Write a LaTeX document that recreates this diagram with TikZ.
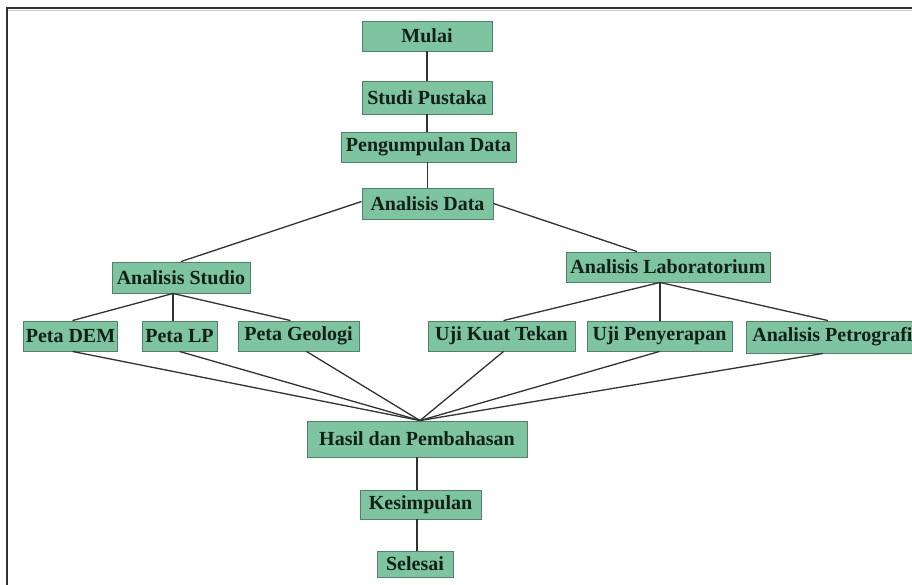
\documentclass[tikz,border=0pt]{standalone}
\usepackage{fontspec}
\setmainfont{Liberation Serif}
\usetikzlibrary{calc}
\definecolor{boxgreen}{RGB}{126,196,160}
\definecolor{boxedge}{RGB}{84,128,106}
\definecolor{boxtext}{RGB}{18,32,24}
\definecolor{linegray}{RGB}{50,50,50}
\tikzset{
  stepbox/.style={draw=boxedge, fill=boxgreen, line width=0.9pt, text=boxtext,
    font=\fontsize{20}{24}\selectfont\bfseries, inner sep=2pt, minimum height=30pt},
  link/.style={draw=linegray, line width=1.3pt},
  frameline/.style={draw=linegray, line width=1.8pt}
}
\begin{document}
\begin{tikzpicture}[x=1pt,y=-1pt]
\useasboundingbox (0,0) rectangle (912,585);
\clip (0,0) rectangle (912,585);
\fill[white] (0,0) rectangle (912,585);
% frame
\coordinate (ftl) at (7,8);
\coordinate (ftr) at (913,8);
\coordinate (fbl) at (7,586);
\draw[frameline] (ftr) -- (ftl) -- (fbl);
\draw[gray!40, line width=0.8pt] (8,10) -- (913,10);

% nodes
\node[stepbox, minimum width=130pt] (mulai) at (427,36) {Mulai};
\node[stepbox, minimum width=130pt, minimum height=33pt] (studi) at (427,97.5) {Studi Pustaka};
\node[stepbox, minimum width=175pt] (peng) at (428.5,147) {Pengumpulan Data};
\node[stepbox, minimum width=131pt, minimum height=31pt] (adata) at (427.5,203.5) {Analisis Data};
\node[stepbox, minimum width=138pt, minimum height=31pt] (astudio) at (181,277.5) {Analisis Studio};
\node[stepbox, minimum width=204pt] (alab) at (668,267) {Analisis Laboratorium};
\node[stepbox, minimum width=93pt] (dem) at (70.5,336) {Peta DEM};
\node[stepbox, minimum width=75pt] (lp) at (179.5,336) {Peta LP};
\node[stepbox, minimum width=121pt] (geo) at (298.5,336) {Peta Geologi};
\node[stepbox, minimum width=147pt] (ukt) at (501.5,336) {Uji Kuat Tekan};
\node[stepbox, minimum width=145pt] (upy) at (659.5,336) {Uji Penyerapan};
\node[stepbox, minimum width=172pt, minimum height=32pt, anchor=west] (apet) at (746,337) {Analisis Petrografi};
\node[stepbox, minimum width=220pt, minimum height=36pt] (hasil) at (417,439) {Hasil dan Pembahasan};
\node[stepbox, minimum width=121pt, minimum height=29pt] (kes) at (420.5,504.5) {Kesimpulan};
\node[stepbox, minimum width=76pt, minimum height=26pt] (sel) at (415,564) {Selesai};

% junction points
\coordinate (hub) at ($(hasil.north)+(3,0)$);
\coordinate (sj) at ($(astudio.south)+(-8,0)$);
\coordinate (lj) at ($(alab.south)+(-8,0)$);

% connectors
\draw[link] (mulai.south) -- (mulai.south |- studi.north);
\draw[link] (studi.south) -- (studi.south |- peng.north);
\draw[link] (adata.north) -- (adata.north |- peng.south);
\draw[link] ($(adata.west)+(0,-2)$) -- (astudio.north);
\draw[link] (adata.east) -- ($(alab.north)+(-31,0)$);
\draw[link] (sj) -- ($(dem.north)+(2,0)$);
\draw[link] (sj) -- (sj |- lp.north);
\draw[link] (sj) -- ($(geo.north)+(-8,0)$);
\draw[link] (lj) -- ($(ukt.north)+(2,0)$);
\draw[link] (lj) -- (lj |- upy.north);
\draw[link] (lj) -- ($(apet.north west)+(82,0)$);
\draw[link] ($(dem.south)+(2,0)$) -- (hub);
\draw[link] (lp.south) -- (hub);
\draw[link] ($(geo.south)+(8,0)$) -- (hub);
\draw[link] ($(ukt.south)+(2,0)$) -- (hub);
\draw[link] (upy.south) -- (hub);
\draw[link] ($(apet.south west)+(77,0)$) -- (hub);
\draw[link] (hasil.south) -- (hasil.south |- kes.north);
\draw[link] (hasil.south |- kes.south) -- (hasil.south |- sel.north);
\end{tikzpicture}
\end{document}
